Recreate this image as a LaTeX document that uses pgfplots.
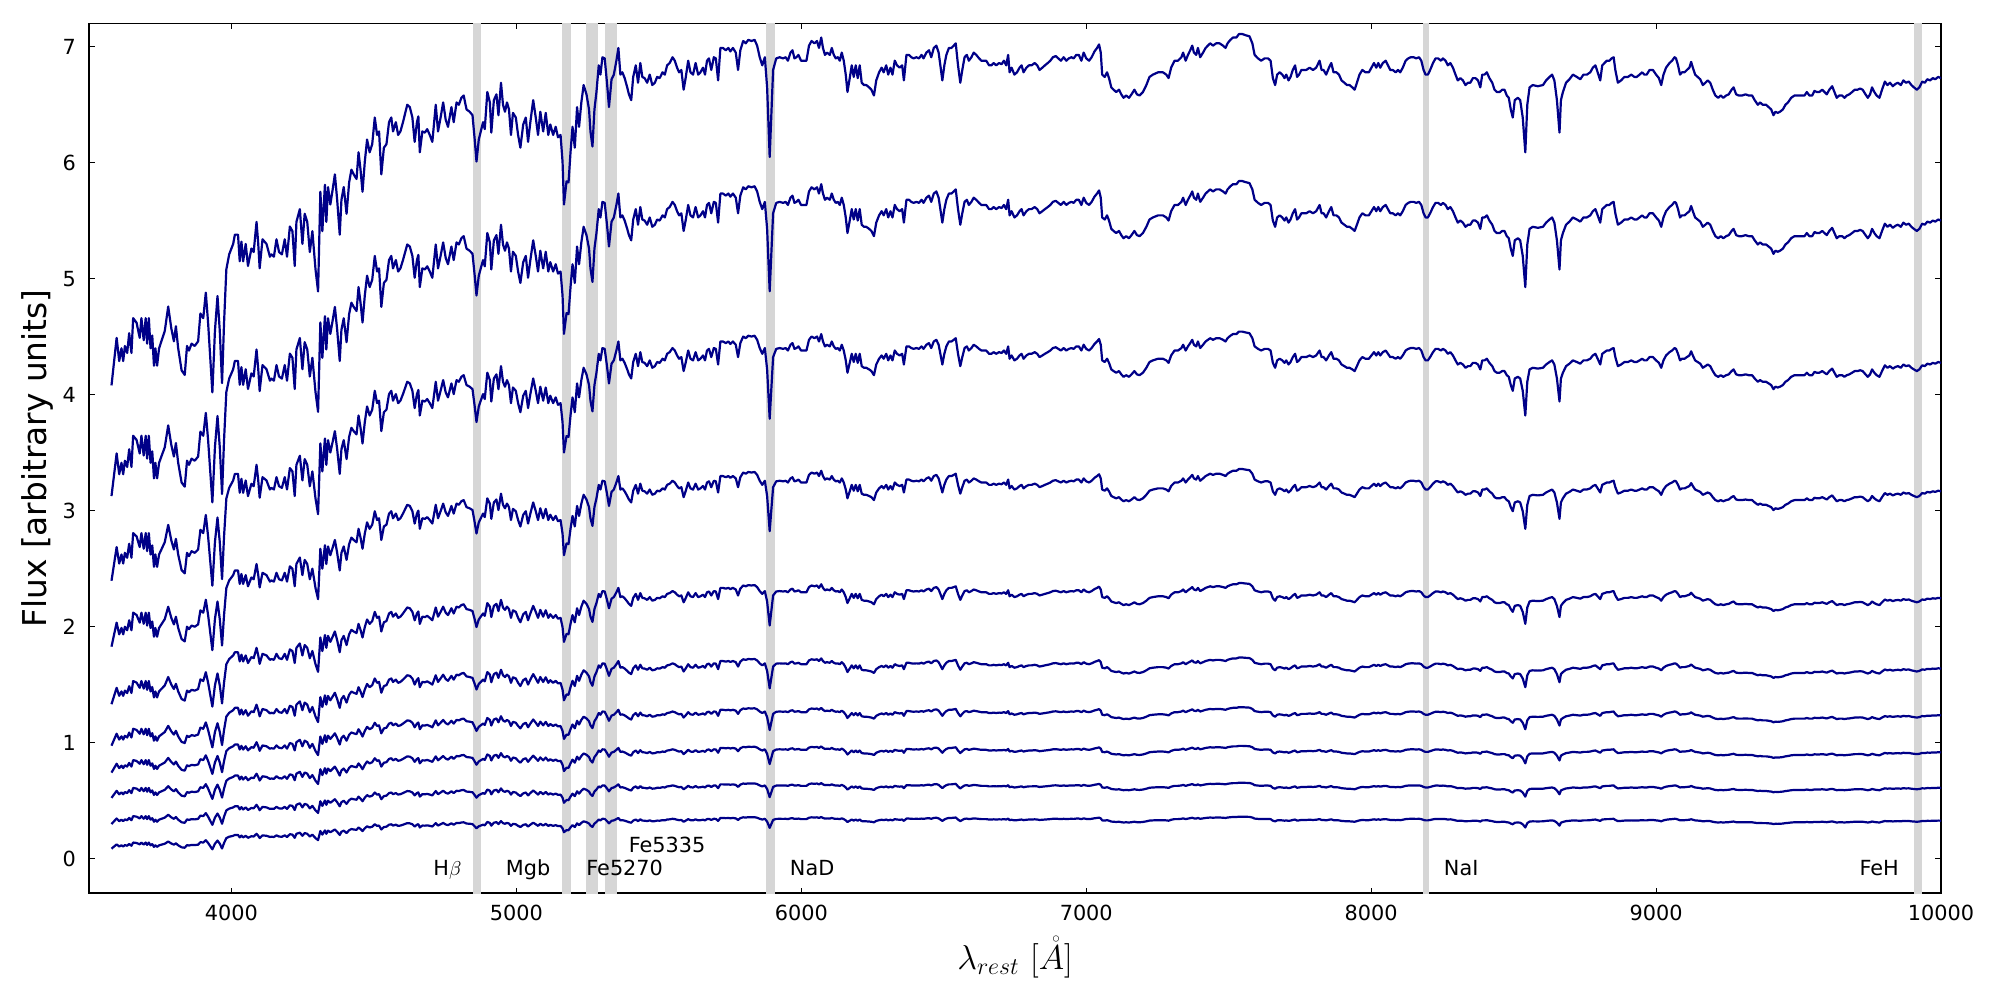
\documentclass[border=0pt]{standalone}
\usepackage{fontspec}
\setmainfont{DejaVu Sans}
\usepackage{pgfplots}
\usepackage{pgfplotstable}
\pgfplotsset{compat=1.18}
\definecolor{spec}{RGB}{0,0,136}
\definecolor{band}{RGB}{214,214,214}

\pgfplotstableread{
l f
3579 4.08
3597 4.49
3606 4.29
3614 4.40
3620 4.29
3626 4.42
3634 4.36
3641 4.53
3649 4.36
3655 4.66
3667 4.62
3678 4.49
3684 4.66
3692 4.47
3699 4.66
3704 4.44
3710 4.66
3716 4.40
3722 4.51
3728 4.25
3733 4.40
3739 4.25
3746 4.40
3754 4.46
3766 4.55
3778 4.76
3789 4.57
3798 4.46
3805 4.59
3813 4.40
3825 4.21
3836 4.17
3844 4.42
3851 4.38
3860 4.44
3871 4.42
3883 4.46
3891 4.70
3901 4.66
3910 4.88
3918 4.62
3933 4.02
3942 4.55
3951 4.85
3959 4.55
3967 4.10
3974 4.62
3982 5.08
3992 5.21
4006 5.30
4012 5.38
4023 5.38
4029 5.15
4035 5.32
4041 5.15
4050 5.30
4058 5.11
4070 5.26
4078 5.23
4088 5.49
4094 5.30
4099 5.09
4109 5.34
4123 5.30
4135 5.19
4140 5.21
4149 5.19
4158 5.34
4167 5.23
4177 5.21
4187 5.34
4195 5.19
4205 5.45
4214 5.41
4222 5.11
4228 5.49
4240 5.60
4249 5.30
4257 5.56
4266 5.49
4275 5.23
4284 5.41
4295 5.08
4304 4.89
4312 5.75
4319 5.41
4328 5.81
4333 5.49
4339 5.79
4347 5.64
4354 5.75
4363 5.90
4371 5.68
4380 5.38
4386 5.68
4394 5.79
4404 5.56
4413 5.83
4421 5.94
4429 5.90
4439 5.86
4446 6.09
4453 5.94
4460 5.75
4468 6.01
4476 6.20
4485 6.09
4494 6.16
4503 6.39
4511 6.24
4518 6.27
4526 5.90
4535 6.13
4544 6.16
4553 6.35
4561 6.39
4567 6.27
4577 6.35
4585 6.24
4593 6.27
4602 6.35
4617 6.50
4626 6.48
4635 6.39
4643 6.18
4651 6.35
4656 6.40
4661 6.09
4670 6.27
4679 6.26
4687 6.29
4696 6.24
4705 6.18
4717 6.50
4725 6.27
4734 6.39
4743 6.52
4752 6.37
4760 6.31
4772 6.48
4780 6.35
4790 6.52
4798 6.50
4807 6.56
4815 6.58
4825 6.46
4836 6.44
4846 6.41
4853 6.22
4860 6.01
4868 6.20
4875 6.27
4883 6.35
4889 6.29
4898 6.61
4907 6.52
4912 6.26
4921 6.54
4930 6.59
4937 6.41
4946 6.69
4953 6.50
4960 6.44
4967 6.52
4974 6.46
4981 6.24
4988 6.43
4998 6.39
5006 6.24
5014 6.13
5024 6.33
5033 6.39
5041 6.18
5049 6.35
5059 6.54
5068 6.39
5076 6.24
5084 6.44
5094 6.27
5103 6.43
5112 6.24
5119 6.33
5129 6.24
5138 6.31
5146 6.22
5155 6.24
5162 6.01
5167 5.64
5176 5.84
5183 5.83
5190 6.09
5197 6.31
5205 6.13
5213 6.48
5220 6.31
5228 6.52
5236 6.67
5246 6.59
5255 6.46
5260 6.27
5267 6.14
5274 6.46
5281 6.61
5289 6.84
5295 6.76
5302 6.91
5310 6.90
5318 6.69
5325 6.48
5334 6.72
5342 6.76
5351 6.88
5358 6.99
5365 6.76
5372 6.78
5380 6.73
5389 6.65
5395 6.59
5403 6.54
5410 6.74
5419 6.84
5427 6.69
5435 6.86
5442 6.74
5450 6.73
5459 6.69
5468 6.76
5477 6.67
5486 6.69
5494 6.74
5503 6.73
5513 6.78
5521 6.76
5529 6.84
5538 6.86
5548 6.91
5556 6.88
5564 6.82
5571 6.78
5579 6.80
5587 6.63
5594 6.73
5603 6.88
5611 6.78
5620 6.76
5629 6.86
5638 6.76
5646 6.78
5655 6.82
5662 6.76
5669 6.88
5676 6.90
5684 6.80
5693 6.91
5700 6.90
5708 6.71
5716 6.99
5725 6.99
5735 6.97
5744 6.99
5751 6.96
5760 6.99
5770 6.95
5778 6.80
5786 6.97
5796 7.05
5805 7.03
5814 7.06
5825 7.05
5836 7.06
5845 7.01
5854 6.91
5863 6.84
5872 6.91
5880 6.65
5889 6.05
5901 6.80
5912 6.90
5924 6.91
5936 6.90
5945 6.91
5953 6.88
5962 6.95
5969 6.97
5976 6.90
5983 6.91
5990 6.93
5999 6.88
6008 6.88
6018 6.88
6027 7.01
6036 7.05
6046 7.03
6055 7.05
6062 6.99
6070 7.08
6076 6.99
6083 6.93
6090 6.95
6100 6.93
6107 6.99
6114 6.93
6121 6.90
6128 6.91
6135 6.88
6142 6.95
6149 6.88
6156 6.76
6162 6.61
6170 6.73
6177 6.84
6184 6.74
6191 6.84
6198 6.73
6205 6.84
6212 6.69
6220 6.67
6228 6.67
6238 6.65
6246 6.63
6255 6.58
6263 6.71
6273 6.78
6282 6.82
6289 6.78
6298 6.84
6305 6.76
6313 6.82
6320 6.76
6328 6.88
6336 6.84
6345 6.82
6354 6.84
6360 6.71
6369 6.93
6378 6.93
6386 6.91
6394 6.90
6404 6.91
6413 6.90
6422 6.93
6429 6.90
6439 6.95
6448 6.97
6456 6.91
6465 6.99
6474 7.01
6482 6.95
6488 6.84
6495 6.71
6502 6.84
6509 6.93
6518 6.99
6527 6.99
6535 7.01
6542 7.03
6550 6.84
6558 6.69
6565 6.80
6573 6.91
6581 6.93
6588 6.88
6597 6.91
6605 6.95
6614 6.93
6624 6.90
6632 6.88
6640 6.88
6649 6.88
6659 6.84
6667 6.84
6675 6.86
6684 6.84
6694 6.86
6703 6.85
6711 6.88
6719 6.84
6726 6.93
6731 6.78
6738 6.82
6748 6.76
6757 6.78
6766 6.82
6773 6.84
6780 6.78
6790 6.82
6799 6.84
6808 6.84
6819 6.86
6828 6.84
6836 6.80
6846 6.82
6855 6.84
6865 6.86
6874 6.88
6883 6.91
6893 6.92
6902 6.90
6911 6.88
6921 6.91
6930 6.88
6939 6.90
6948 6.91
6956 6.90
6965 6.93
6974 6.93
6983 6.88
6991 6.95
7000 6.90
7010 6.88
7019 6.91
7029 6.96
7038 6.99
7045 7.02
7051 6.95
7056 6.76
7065 6.74
7073 6.78
7080 6.73
7088 6.65
7096 6.63
7105 6.61
7115 6.63
7123 6.59
7131 6.56
7140 6.58
7150 6.56
7159 6.59
7169 6.63
7178 6.59
7187 6.58
7199 6.61
7211 6.67
7222 6.74
7234 6.76
7252 6.78
7269 6.78
7281 6.76
7289 6.73
7298 6.82
7310 6.88
7322 6.88
7334 6.91
7340 6.95
7349 6.88
7357 6.93
7365 6.97
7372 7.01
7378 6.95
7386 6.93
7392 6.99
7400 6.91
7410 6.95
7419 6.99
7427 7.01
7435 7.03
7445 7.01
7456 7.03
7468 7.03
7480 7.01
7489 6.99
7496 7.03
7506 7.06
7515 7.08
7527 7.08
7536 7.11
7548 7.11
7559 7.10
7573 7.09
7583 7.03
7591 6.93
7603 6.90
7614 6.88
7626 6.90
7638 6.90
7647 6.88
7655 6.73
7663 6.67
7670 6.76
7679 6.78
7688 6.76
7696 6.73
7702 6.76
7710 6.71
7717 6.74
7725 6.80
7733 6.84
7740 6.74
7747 6.76
7755 6.80
7763 6.80
7772 6.80
7784 6.82
7796 6.80
7807 6.82
7819 6.88
7826 6.80
7833 6.80
7842 6.76
7852 6.82
7860 6.86
7868 6.78
7878 6.78
7887 6.76
7896 6.71
7906 6.69
7915 6.67
7924 6.67
7934 6.65
7942 6.63
7950 6.69
7959 6.76
7969 6.80
7980 6.78
7992 6.78
8001 6.82
8010 6.86
8018 6.82
8025 6.86
8032 6.82
8041 6.86
8051 6.88
8059 6.84
8067 6.80
8076 6.80
8086 6.78
8094 6.80
8102 6.78
8111 6.82
8121 6.88
8130 6.90
8139 6.91
8149 6.91
8158 6.90
8168 6.91
8176 6.88
8184 6.80
8191 6.76
8199 6.76
8207 6.80
8217 6.86
8226 6.90
8235 6.90
8245 6.88
8252 6.90
8261 6.88
8269 6.84
8278 6.86
8287 6.82
8296 6.76
8304 6.71
8313 6.73
8322 6.71
8331 6.67
8340 6.69
8348 6.69
8357 6.73
8366 6.73
8375 6.71
8383 6.65
8390 6.76
8398 6.76
8406 6.78
8415 6.73
8425 6.69
8433 6.63
8441 6.61
8451 6.61
8460 6.63
8468 6.63
8476 6.58
8483 6.56
8490 6.46
8497 6.39
8504 6.54
8515 6.56
8523 6.54
8532 6.39
8541 6.09
8548 6.50
8556 6.65
8567 6.67
8585 6.66
8603 6.67
8614 6.71
8626 6.74
8635 6.76
8643 6.71
8652 6.54
8661 6.26
8666 6.54
8673 6.61
8684 6.69
8696 6.72
8708 6.76
8722 6.74
8734 6.72
8745 6.76
8757 6.76
8769 6.78
8778 6.82
8787 6.84
8795 6.78
8804 6.71
8811 6.84
8819 6.86
8827 6.88
8836 6.88
8844 6.90
8851 6.91
8857 6.80
8866 6.69
8877 6.71
8889 6.74
8901 6.74
8913 6.76
8924 6.74
8932 6.74
8942 6.76
8951 6.78
8959 6.76
8967 6.76
8977 6.80
8989 6.80
9000 6.76
9010 6.73
9018 6.67
9026 6.76
9035 6.82
9047 6.86
9056 6.88
9065 6.91
9070 6.90
9077 6.84
9084 6.76
9091 6.78
9100 6.78
9108 6.80
9117 6.82
9123 6.87
9129 6.82
9137 6.76
9146 6.74
9155 6.72
9164 6.67
9173 6.69
9181 6.71
9190 6.69
9199 6.63
9208 6.58
9218 6.56
9227 6.58
9236 6.56
9246 6.58
9255 6.59
9265 6.63
9272 6.65
9281 6.59
9290 6.58
9302 6.58
9314 6.59
9325 6.58
9337 6.58
9346 6.54
9357 6.50
9365 6.52
9374 6.50
9386 6.50
9395 6.48
9404 6.46
9412 6.41
9419 6.44
9427 6.43
9435 6.44
9445 6.46
9454 6.50
9463 6.52
9474 6.56
9486 6.58
9497 6.58
9509 6.58
9521 6.58
9529 6.61
9538 6.58
9548 6.58
9556 6.62
9564 6.61
9573 6.61
9583 6.63
9591 6.61
9599 6.59
9608 6.63
9618 6.66
9626 6.61
9634 6.56
9643 6.58
9653 6.58
9661 6.56
9669 6.58
9678 6.59
9688 6.61
9697 6.63
9707 6.63
9716 6.64
9725 6.63
9735 6.59
9743 6.56
9751 6.59
9758 6.65
9766 6.61
9774 6.58
9784 6.56
9793 6.63
9803 6.70
9812 6.67
9821 6.69
9831 6.66
9840 6.68
9849 6.69
9859 6.67
9868 6.71
9877 6.69
9887 6.70
9896 6.67
9905 6.65
9915 6.63
9924 6.65
9934 6.70
9943 6.69
9952 6.72
9962 6.71
9971 6.73
9980 6.72
9990 6.74
10000 6.73
}\spec

\begin{document}
\begin{tikzpicture}
\path[use as bounding box] (0pt,0pt) rectangle (1000pt,500pt);
\begin{axis}[
  at={(44.5pt,53.35pt)}, anchor=south west,
  width=926pt, height=434.85pt, scale only axis,
  xmin=3500, xmax=10000, ymin=-0.3, ymax=7.2,
  xtick={4000,5000,6000,7000,8000,9000,10000},
  ytick={0,1,2,3,4,5,6,7},
  tick pos=both, tick align=inside,
  major tick length=2.8pt,
  tick style={black, line width=0.5pt},
  axis line style={black, line width=0.8pt},
  scaled x ticks=false, scaled y ticks=false,
  /pgf/number format/1000 sep={},
  /pgf/number format/assume math mode=true,
  ticklabel style={font=\fontsize{10.4}{12}\selectfont},
  xticklabel style={yshift=-2.5pt},
  yticklabel style={xshift=-3pt},
  xlabel={$\lambda_{rest}\ [\mathring{A}]$},
  ylabel={Flux [arbitrary units]},
  label style={font=\fontsize{16.4}{19}\selectfont},
  xlabel style={at={(axis description cs:0.5,-0.0733)}, anchor=center},
  ylabel style={at={(axis description cs:-0.0278,0.5)}, anchor=center, rotate=0},
  every axis plot/.append style={line join=round},
]
% index bands
\addplot[draw=none, fill=band, forget plot] coordinates {(4848,-1) (4848,8) (4877,8) (4877,-1)} --cycle;
\addplot[draw=none, fill=band, forget plot] coordinates {(5160,-1) (5160,8) (5193,8) (5193,-1)} --cycle;
\addplot[draw=none, fill=band, forget plot] coordinates {(5246,-1) (5246,8) (5286,8) (5286,-1)} --cycle;
\addplot[draw=none, fill=band, forget plot] coordinates {(5312,-1) (5312,8) (5352,8) (5352,-1)} --cycle;
\addplot[draw=none, fill=band, forget plot] coordinates {(5877,-1) (5877,8) (5909,8) (5909,-1)} --cycle;
\addplot[draw=none, fill=band, forget plot] coordinates {(8182,-1) (8182,8) (8204,8) (8204,-1)} --cycle;
\addplot[draw=none, fill=band, forget plot] coordinates {(9905,-1) (9905,8) (9935,8) (9935,-1)} --cycle;
% spectra
\addplot[spec, line width=1.1pt] table[x=l, y=f] {\spec};
\addplot[spec, line width=1.1pt] table[x=l, y expr=0.8965*\thisrow{f}-0.532] {\spec};
\addplot[spec, line width=1.1pt] table[x=l, y expr=0.7092*\thisrow{f}-0.4985] {\spec};
\addplot[spec, line width=1.1pt] table[x=l, y expr=0.5056*\thisrow{f}-0.236] {\spec};
\addplot[spec, line width=1.1pt] table[x=l, y expr=0.3447*\thisrow{f}-0.0757] {\spec};
\addplot[spec, line width=1.1pt] table[x=l, y expr=0.2508*\thisrow{f}-0.050] {\spec};
\addplot[spec, line width=1.1pt] table[x=l, y expr=0.1862*\thisrow{f}-0.019] {\spec};
\addplot[spec, line width=1.1pt] table[x=l, y expr=0.148*\thisrow{f}-0.081] {\spec};
\addplot[spec, line width=1.1pt] table[x=l, y expr=0.1176*\thisrow{f}-0.1825] {\spec};
\addplot[spec, line width=1.1pt] table[x=l, y expr=0.0911*\thisrow{f}-0.287] {\spec};
% labels
\begin{scope}[every node/.style={font=\fontsize{10.4}{12}\selectfont, anchor=base, inner sep=0pt}]
\node at (axis cs:4758,-0.15) {H$\beta$};
\node at (axis cs:5041,-0.15) {Mgb};
\node at (axis cs:5380,-0.15) {Fe5270};
\node at (axis cs:5529,0.054) {Fe5335};
\node at (axis cs:6038,-0.15) {NaD};
\node at (axis cs:8316,-0.15) {NaI};
\node at (axis cs:9783,-0.15) {FeH};
\end{scope}
\end{axis}
\end{tikzpicture}
\end{document}
